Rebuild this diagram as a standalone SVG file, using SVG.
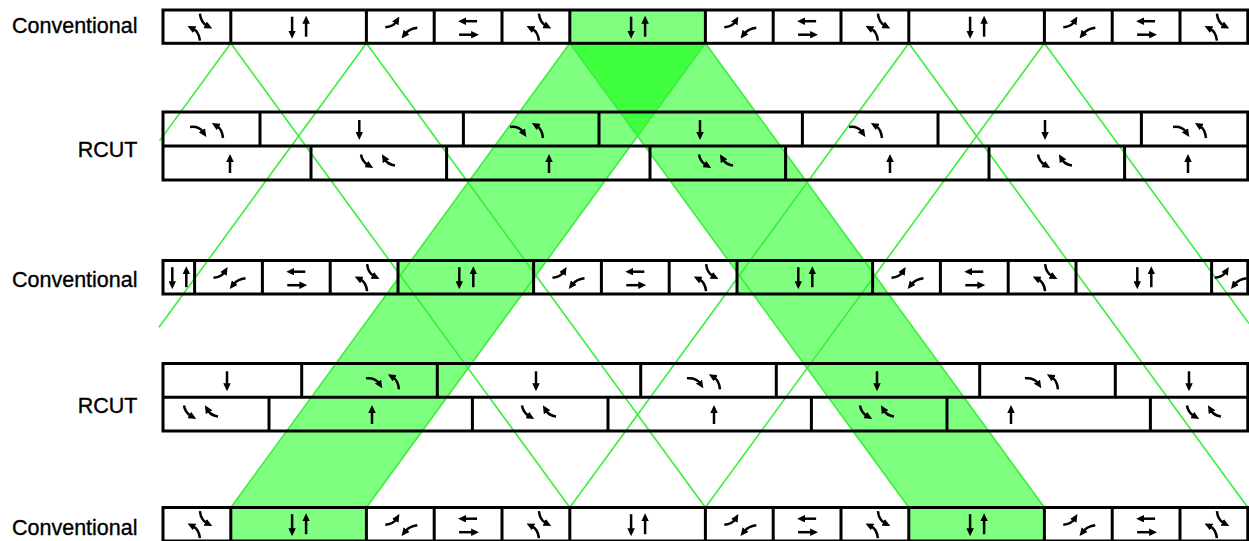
<svg xmlns="http://www.w3.org/2000/svg" width="1249" height="541" viewBox="0 0 1249 541">
<style>
.lbl{font-family:"Liberation Sans",Arial,sans-serif;font-size:21.5px;fill:#000;stroke:#000;stroke-width:0.35;text-anchor:end}
.box{fill:none;stroke:#000;stroke-width:3}
.div{fill:none;stroke:#000;stroke-width:3}
.hl{fill:#80ff80}
.band{fill:#00ff00;fill-opacity:0.5}
.gl{stroke:#3ced3c;stroke-width:1.6;fill:none}
.ar{fill:none;stroke:#000;stroke-width:2.5;marker-end:url(#ah)}
</style>
<defs>
<marker id="ah" viewBox="0 0 8 7.5" refX="2" refY="3.75" markerWidth="8" markerHeight="7.5" markerUnits="userSpaceOnUse" orient="auto"><path d="M0,0 L8,3.75 L0,7.5 z" fill="#000"/></marker>
<g id="i-nsl"><path class="ar" d="M3,-13 Q4,-4 10,-1"/><path class="ar" d="M3,14 Q2,5 -4,2"/></g>
<g id="i-ewl"><path class="ar" d="M-15,0.5 Q-7,0 -4,-5"/><path class="ar" d="M17,1 Q9,2 5,7"/></g>
<g id="i-ewt"><path class="ar" d="M9,-5.5 L-4,-5.5"/><path class="ar" d="M-9,8 L5,8"/></g>
<g id="i-nst"><path class="ar" d="M-6.5,-10 L-6.5,6"/><path class="ar" d="M7.5,10 L7.5,-5"/></g>
<g id="i-dn"><path class="ar" d="M0,-9 L0,5"/></g>
<g id="i-up"><path class="ar" d="M0,10 L0,-3"/></g>
<g id="i-rt"><path class="ar" d="M-17,-2 Q-8,-3 -4,3"/><path class="ar" d="M16,9 Q15,0 10,-3"/></g>
<g id="i-rb"><path class="ar" d="M-17,-7 Q-16,0 -10,3.5"/><path class="ar" d="M17,4 Q10,3 7,-2"/></g>
</defs>
<rect width="1249" height="541" fill="#fff"/>

<g id="bands">
<polygon class="band" points="569.8,43.3 705.4,43.3 366.4,507.5 230.8,507.5"/>
<polygon class="band" points="569.8,43.3 705.4,43.3 1044.4,507.5 908.8,507.5"/>
</g>

<g id="highlights">
<rect class="hl" x="569.8" y="10" width="135.6" height="33.3"/>
<rect class="hl" x="398" y="260.5" width="135.6" height="33.5"/>
<rect class="hl" x="737" y="260.5" width="135.6" height="33.5"/>
<rect class="hl" x="230.8" y="507.5" width="135.6" height="33.5"/>
<rect class="hl" x="908.8" y="507.5" width="135.6" height="33.5"/>
</g>

<g id="connectors">
<path class="gl" d="M230.8,43.3 L569.8,507.5"/>
<path class="gl" d="M366.4,43.3 L705.4,507.5"/>
<path class="gl" d="M569.8,43.3 L908.8,507.5"/>
<path class="gl" d="M705.4,43.3 L1044.4,507.5"/>
<path class="gl" d="M908.8,43.3 L1247.8,507.5"/>
<path class="gl" d="M1044.4,43.3 L1249,323.5"/>
<path class="gl" d="M230.8,43.3 L159.5,140.9"/>
<path class="gl" d="M366.4,43.3 L159,327.3"/>
<path class="gl" d="M569.8,43.3 L230.8,507.5"/>
<path class="gl" d="M705.4,43.3 L366.4,507.5"/>
<path class="gl" d="M908.8,43.3 L569.8,507.5"/>
<path class="gl" d="M1044.4,43.3 L705.4,507.5"/>
</g>

<g id="row1-conventional">
<text class="lbl" x="137.5" y="32.5">Conventional</text>
<rect class="box" x="163" y="10" width="1084.8" height="33.3"/>
<path class="div" d="M230.8,10V43.3M366.4,10V43.3M434.2,10V43.3M502,10V43.3M569.8,10V43.3M705.4,10V43.3M773.2,10V43.3M841,10V43.3M908.8,10V43.3M1044.4,10V43.3M1112.2,10V43.3M1180,10V43.3"/>
<use href="#i-nsl" x="196.9" y="26.7"/><use href="#i-nsl" x="535.9" y="26.7"/><use href="#i-nsl" x="874.9" y="26.7"/><use href="#i-nsl" x="1213.9" y="26.7"/>
<use href="#i-nst" x="298.6" y="26.7"/><use href="#i-nst" x="637.6" y="26.7"/><use href="#i-nst" x="976.6" y="26.7"/>
<use href="#i-ewl" x="400.3" y="26.7"/><use href="#i-ewl" x="739.3" y="26.7"/><use href="#i-ewl" x="1078.3" y="26.7"/>
<use href="#i-ewt" x="468.1" y="26.7"/><use href="#i-ewt" x="807.1" y="26.7"/><use href="#i-ewt" x="1146.1" y="26.7"/>
</g>

<g id="row2-rcut">
<text class="lbl" x="137.5" y="156.5">RCUT</text>
<rect class="box" x="163" y="112" width="1084.8" height="68"/>
<path class="div" d="M163,146H1247.8M260,112V146M463.4,112V146M599,112V146M802.4,112V146M938,112V146M1141.4,112V146M311,146V180M446.6,146V180M650,146V180M785.6,146V180M989,146V180M1124.6,146V180"/>
<use href="#i-rt" x="207" y="129"/><use href="#i-rt" x="527" y="129"/><use href="#i-rt" x="866" y="129"/><use href="#i-rt" x="1190" y="129"/>
<use href="#i-dn" x="359.3" y="129"/><use href="#i-dn" x="700" y="129"/><use href="#i-dn" x="1045" y="129"/>
<use href="#i-up" x="230" y="163"/><use href="#i-up" x="549" y="163"/><use href="#i-up" x="890" y="163"/><use href="#i-up" x="1188" y="163"/>
<use href="#i-rb" x="378" y="161.5"/><use href="#i-rb" x="716" y="161.5"/><use href="#i-rb" x="1055" y="161.5"/>
</g>

<g id="row3-conventional">
<text class="lbl" x="137.5" y="286.5">Conventional</text>
<rect class="box" x="163" y="260.5" width="1084.8" height="33.5"/>
<path class="div" d="M194.6,260.5V294M262.4,260.5V294M330.2,260.5V294M398,260.5V294M533.6,260.5V294M601.4,260.5V294M669.2,260.5V294M737,260.5V294M872.6,260.5V294M940.4,260.5V294M1008.2,260.5V294M1076,260.5V294M1211.6,260.5V294"/>
<use href="#i-nst" x="178.8" y="277.2"/><use href="#i-nst" x="465.8" y="277.2"/><use href="#i-nst" x="804.8" y="277.2"/><use href="#i-nst" x="1143.8" y="277.2"/>
<use href="#i-ewl" x="228.5" y="277.2"/><use href="#i-ewl" x="567.5" y="277.2"/><use href="#i-ewl" x="906.5" y="277.2"/><use href="#i-ewl" x="1229.7" y="277.2"/>
<use href="#i-ewt" x="296.3" y="277.2"/><use href="#i-ewt" x="635.3" y="277.2"/><use href="#i-ewt" x="974.3" y="277.2"/>
<use href="#i-nsl" x="364.1" y="277.2"/><use href="#i-nsl" x="703.1" y="277.2"/><use href="#i-nsl" x="1042.1" y="277.2"/>
</g>

<g id="row4-rcut">
<text class="lbl" x="137.5" y="413">RCUT</text>
<rect class="box" x="163" y="363.5" width="1084.8" height="67.5"/>
<path class="div" d="M163,397.2H1247.8M301.7,363.5V397.2M437.3,363.5V397.2M640.7,363.5V397.2M776.3,363.5V397.2M979.7,363.5V397.2M1115.3,363.5V397.2M269,397.2V431M472.4,397.2V431M608,397.2V431M811.4,397.2V431M947,397.2V431M1150.4,397.2V431"/>
<use href="#i-dn" x="227" y="380.3"/><use href="#i-dn" x="536" y="380.3"/><use href="#i-dn" x="877" y="380.3"/><use href="#i-dn" x="1189" y="380.3"/>
<use href="#i-rt" x="383" y="380.3"/><use href="#i-rt" x="704" y="380.3"/><use href="#i-rt" x="1042" y="380.3"/>
<use href="#i-rb" x="201" y="412.5"/><use href="#i-rb" x="539" y="412.5"/><use href="#i-rb" x="877" y="412.5"/><use href="#i-rb" x="1204" y="412.5"/>
<use href="#i-up" x="372" y="414"/><use href="#i-up" x="714" y="414"/><use href="#i-up" x="1011" y="414"/>
</g>

<g id="row5-conventional">
<text class="lbl" x="137.5" y="535">Conventional</text>
<rect class="box" x="163" y="507.5" width="1084.8" height="33.5"/>
<path class="div" d="M230.8,507.5V541M366.4,507.5V541M434.2,507.5V541M502,507.5V541M569.8,507.5V541M705.4,507.5V541M773.2,507.5V541M841,507.5V541M908.8,507.5V541M1044.4,507.5V541M1112.2,507.5V541M1180,507.5V541"/>
<use href="#i-nsl" x="196.9" y="524.2"/><use href="#i-nsl" x="535.9" y="524.2"/><use href="#i-nsl" x="874.9" y="524.2"/><use href="#i-nsl" x="1213.9" y="524.2"/>
<use href="#i-nst" x="298.6" y="524.2"/><use href="#i-nst" x="637.6" y="524.2"/><use href="#i-nst" x="976.6" y="524.2"/>
<use href="#i-ewl" x="400.3" y="524.2"/><use href="#i-ewl" x="739.3" y="524.2"/><use href="#i-ewl" x="1078.3" y="524.2"/>
<use href="#i-ewt" x="468.1" y="524.2"/><use href="#i-ewt" x="807.1" y="524.2"/><use href="#i-ewt" x="1146.1" y="524.2"/>
</g>
</svg>
